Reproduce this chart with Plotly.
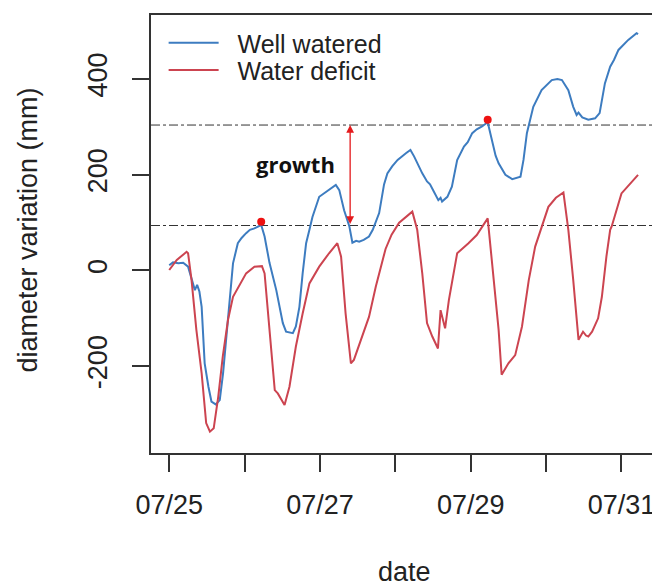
import plotly.graph_objects as go

# ---- data (days since 07/25, diameter variation) ----
tick_days = [0, 1, 2, 3, 4, 5, 6]
tick_labels = ["07/25", "", "07/27", "", "07/29", "", "07/31"]
y_ticks = [-200, 0, 200, 400]
y_tick_labels = ["-200", "0", "200", "400"]

ww_day = [0.00, 0.05, 0.12, 0.185, 0.25, 0.296, 0.34, 0.37, 0.40, 0.43, 0.47, 0.52, 0.56, 0.617,
          0.67, 0.714, 0.758, 0.80, 0.846, 0.91, 0.96, 1.02, 1.07, 1.13, 1.22, 1.265, 1.33, 1.42,
          1.507, 1.55, 1.64, 1.68, 1.727, 1.77, 1.816, 1.86, 1.90, 1.99, 2.06, 2.12, 2.21, 2.256,
          2.32, 2.39, 2.43, 2.48, 2.52, 2.58, 2.65, 2.70, 2.785, 2.85, 2.894, 2.96, 3.03, 3.14,
          3.20, 3.25, 3.30, 3.357, 3.42, 3.46, 3.51, 3.57, 3.60, 3.62, 3.69, 3.75, 3.82, 3.91,
          3.96, 4.02, 4.08, 4.15, 4.225, 4.28, 4.33, 4.37, 4.46, 4.55, 4.66, 4.70, 4.745, 4.83,
          4.94, 5.075, 5.15, 5.21, 5.295, 5.36, 5.405, 5.43, 5.48, 5.56, 5.65, 5.71, 5.78, 5.85,
          5.90, 5.96, 6.09, 6.20, 6.22]
ww_val = [11, 17, 15, 16, 8, -20, -41, -30, -44, -76, -194, -243, -274, -280,
          -271, -215, -138, -68, 15, 57, 68, 78, 85, 88, 95, 71, 16, -41,
          -110, -128, -131, -117, -76, -6, 57, 85, 112, 154, 162, 168, 179, 168,
          126, 92, 58, 62, 60, 64, 71, 85, 120, 180, 203, 218, 231, 245,
          252, 238, 220, 203, 186, 180, 165, 147, 152, 144, 154, 175, 231, 259,
          268, 287, 295, 301, 310, 273, 240, 224, 200, 191, 196, 231, 287, 342,
          377, 398, 400, 398, 377, 342, 325, 330, 320, 315, 318, 329, 391, 426,
          440, 461, 482, 496, 494]

wd_day = [0.00, 0.10, 0.20, 0.23, 0.25, 0.296, 0.36, 0.43, 0.49, 0.54, 0.59, 0.65, 0.71, 0.78,
          0.846, 0.93, 1.02, 1.13, 1.23, 1.265, 1.33, 1.40, 1.44, 1.53, 1.595, 1.68, 1.77, 1.86,
          1.99, 2.12, 2.23, 2.28, 2.34, 2.41, 2.45, 2.56, 2.65, 2.74, 2.87, 2.95, 3.05, 3.225,
          3.27, 3.29, 3.357, 3.42, 3.49, 3.565, 3.60, 3.66, 3.71, 3.82, 3.97, 4.08, 4.225, 4.24,
          4.30, 4.37, 4.41, 4.50, 4.59, 4.68, 4.77, 4.855, 5.03, 5.13, 5.23, 5.295, 5.36, 5.43,
          5.49, 5.53, 5.56, 5.61, 5.69, 5.74, 5.80, 5.85, 5.87, 6.00, 6.22]
wd_val = [1, 22, 35, 39, 36, -20, -124, -215, -319, -337, -330, -264, -180, -103,
          -55, -30, -6, 8, 9, -6, -124, -250, -257, -281, -243, -159, -90, -27,
          8, 36, 57, 29, -90, -194, -187, -138, -97, -34, 45, 75, 100, 123,
          92, 85, -6, -110, -138, -163, -83, -121, -62, 36, 57, 74, 109, 85,
          -20, -124, -218, -194, -177, -117, -20, 50, 133, 152, 163, 85, -20, -145,
          -128, -136, -138, -128, -100, -55, 29, 85, 92, 161, 200]

ref_levels = [304, 94]
peak_day = [1.22, 4.225]
peak_val = [102, 315]
arrow_day = 2.40

BLUE = "#3d7cc0"
RED = "#cc4450"
FONT = "Liberation Sans, Arial, sans-serif"
INK = "#222222"
PAD = "\u00a0\u00a0"

fig = go.Figure()
fig.add_trace(go.Scatter(x=ww_day, y=ww_val, mode="lines", name=PAD + "Well watered",
                         line=dict(color=BLUE, width=2), legend="legend"))
fig.add_trace(go.Scatter(x=wd_day, y=wd_val, mode="lines", name=PAD + "Water deficit",
                         line=dict(color=RED, width=2), legend="legend2"))
fig.add_trace(go.Scatter(x=peak_day, y=peak_val, mode="markers", showlegend=False,
                         marker=dict(color="#ee1111", size=8)))

for lv in ref_levels:
    fig.add_shape(type="line", xref="paper", x0=0, x1=1, yref="y", y0=lv, y1=lv,
                  line=dict(color="#333333", width=1, dash="dashdot"), layer="below")

fig.add_annotation(x=arrow_day, y=ref_levels[0], ax=arrow_day, ay=ref_levels[1],
                   xref="x", yref="y", axref="x", ayref="y", text="",
                   showarrow=True, arrowhead=2, startarrowhead=2, arrowside="end+start",
                   arrowsize=1.2, arrowwidth=1.3, arrowcolor="#e41a1c", standoff=0, startstandoff=0)
fig.add_annotation(x=1.68, y=222, xref="x", yref="y", text="<b>growth</b>", showarrow=False,
                   font=dict(family="Open Sans, sans-serif", size=22, color="#111111"))

fig.add_annotation(xref="paper", yref="paper", x=-0.2426, y=0.509, xanchor="center", yanchor="middle",
                   text="diameter variation (mm)", textangle=-90, showarrow=False,
                   font=dict(family=FONT, size=27, color=INK))
fig.add_annotation(xref="paper", yref="paper", x=0.501, y=-0.272, xanchor="center", yanchor="middle",
                   text="date", showarrow=False, font=dict(family=FONT, size=27, color=INK))

axis_common = dict(showline=True, mirror=True, linecolor="#333333", linewidth=1.5,
                   ticks="outside", ticklen=17, tickwidth=1.5, tickcolor="#333333",
                   showgrid=False, zeroline=False,
                   tickfont=dict(family=FONT, size=27, color=INK))

legend_common = dict(xanchor="left", yanchor="middle", bgcolor="rgba(0,0,0,0)",
                     font=dict(family=FONT, size=25, color=INK), itemwidth=50,
                     borderwidth=0)

fig.update_layout(
    width=652, height=580, autosize=False,
    margin=dict(l=143, r=2, t=7, b=135),
    paper_bgcolor="white", plot_bgcolor="white",
    xaxis=dict(range=[-0.242, 6.458], tickmode="array", tickvals=tick_days, ticktext=tick_labels,
               ticklabelstandoff=10, **axis_common),
    yaxis=dict(range=[-381.5, 534], tickmode="array", tickvals=y_ticks, ticktext=y_tick_labels,
               tickangle=-90, ticklabelstandoff=14, **axis_common),
    legend=dict(x=0.025, y=0.936, **legend_common),
    legend2=dict(x=0.025, y=0.874, **legend_common),
    font=dict(family=FONT),
)

fig.write_html("out.html")
